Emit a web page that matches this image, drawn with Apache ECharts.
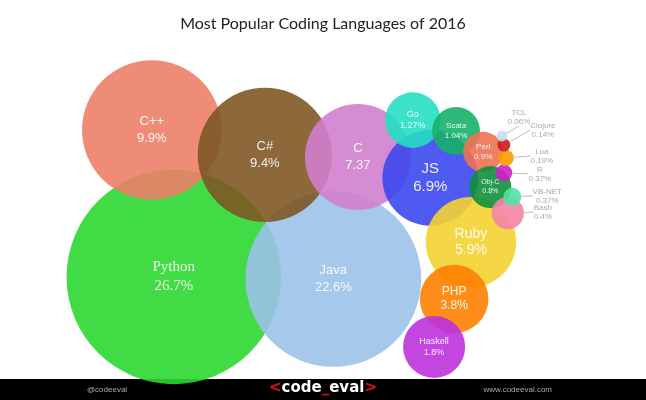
<!DOCTYPE html>
<html>
<head>
<meta charset="utf-8">
<script src="https://cdn.jsdelivr.net/npm/echarts@6/dist/echarts.min.js"></script>
<style>
html, body { margin: 0; padding: 0; background: #fff; }
#bubbles { width: 646px; height: 400px; }
</style>
</head>
<body>
<div id="bubbles"></div>
<script>
// languages, biggest first (later ones drawn on top)
var names  = ['Python', 'Java', 'C++', 'C#', 'C', 'JS', 'Ruby', 'PHP', 'Haskell', 'Go', 'Scala', 'Perl', 'Obj-C', 'Bash', 'R', 'VB-NET', 'Lua', 'Clojure', 'TCL'];
var shares = ['26.7%', '22.6%', '9.9%', '9.4%', '7.37', '6.9%', '5.9%', '3.8%', '1.8%', '1.27%', '1.04%', '0.9%', '0.8%', '0.4%', '0.37%', '0.37%', '0.19%', '0.14%', '0.06%'];
// bubble centres and radii (axis units 0-100)
var posX   = [26.9, 51.6, 23.5, 41.0, 55.4, 66.6, 72.9, 70.3, 67.2, 63.9, 70.6, 74.8, 75.9, 78.6, 78.0, 79.3, 78.3, 78.0, 77.7];
var posY   = [29.9, 29.3, 73.4, 66.0, 65.4, 59.2, 40.2, 23.4, 9.2, 76.3, 73.1, 66.9, 56.5, 48.8, 60.7, 53.6, 65.1, 68.9, 71.6];
var radius = [16.6, 13.6, 10.8, 10.4, 8.2, 7.4, 7.0, 5.3, 4.8, 4.3, 3.7, 3.1, 3.25, 2.5, 1.3, 1.4, 1.24, 1.0, 0.85];

(function(){
	var colors = ['#2cd831', '#9bc2e9', '#ec7f69', '#7f5826', '#d27fcd', '#3c48ee', '#f4d331', '#fd7f00', '#bc32de',
		'#26dec2', '#16b169', '#ee7253', '#10903c', '#f485a6', '#cd21c7', '#53e3a1', '#f79b05', '#cd1b1b', '#c7ddee'];
	// font size / line height of the label inside each bubble
	var fonts = [[15, 19], [13, 17], [13, 17], [13, 17], [13, 17], [15, 18], [14, 16], [12, 14], [9, 11],
		[9, 11], [8, 10], [8, 10], [7, 9]];
	// where the outside labels sit, relative to their bubble
	var offsets = {13: [35, -1], 14: [36, 1], 15: [35, -1], 16: [36, -2], 17: [39, -15], 18: [17, -19]};
	var pxPerUnit = 6.46;

	var inside = [], outside = [];
	names.forEach(function(n, i){
		var item = {
			name: n,
			value: [posX[i], posY[i], radius[i]],
			itemStyle: { color: colors[i], opacity: 0.9 }
		};
		if (fonts[i]) {
			item.label = {
				fontSize: fonts[i][0],
				lineHeight: fonts[i][1],
				fontFamily: n === 'Python' ? 'Liberation Serif' : 'Liberation Sans'
			};
			inside.push(item);
		} else {
			outside.push(item);
		}
	});

	option = {
		animation: false,
		title: {
			text: 'Most Popular Coding Languages of 2016',
			left: 'center',
			top: 11,
			textStyle: { fontFamily: 'Lato', fontSize: 16, fontWeight: 'normal', color: '#222' }
		},
		grid: { left: 0, right: 0, top: 40, bottom: 22 },
		xAxis: { type: 'value', min: 0, max: 100, show: false },
		yAxis: { type: 'value', min: 0, max: 100, show: false },
		series: [
			{
				type: 'scatter',
				data: inside,
				symbolSize: function(v){ return v[2] * 2 * pxPerUnit; },
				label: {
					show: true,
					position: 'inside',
					color: '#fff',
					formatter: function(p){ return p.name + '\n' + shares[names.indexOf(p.name)]; }
				}
			},
			{
				type: 'scatter',
				data: outside,
				symbolSize: function(v){ return v[2] * 2 * pxPerUnit; },
				label: {
					show: true,
					position: 'inside',
					color: '#a0a0a0',
					fontSize: 8,
					lineHeight: 9,
					fontFamily: 'Liberation Sans',
					formatter: function(p){ return p.name + '\n' + shares[names.indexOf(p.name)]; }
				},
				labelLine: { show: true, lineStyle: { color: '#bdbdbd', width: 1 } },
				labelLayout: function(p){
					var o = offsets[names.indexOf(outside[p.dataIndex].name)];
					return o ? { dx: o[0], dy: o[1] } : {};
				}
			}
		],
		graphic: [
			{ type: 'rect', left: 0, top: 379, shape: { width: 646, height: 21 }, style: { fill: '#000' } },
			{ type: 'text', left: 87, top: 386, style: { text: '@codeeval', fill: '#aaa', fontSize: 8, fontFamily: 'Liberation Sans' } },
			{ type: 'text', right: 94, top: 386, style: { text: 'www.codeeval.com', fill: '#aaa', fontSize: 8, fontFamily: 'Liberation Sans' } },
			{
				type: 'text', left: 'center', top: 381,
				style: {
					text: '{r|<}{w|code}{r|_}{w|eval}{r|>}',
					rich: {
						r: { fill: '#e01010', fontSize: 15, fontWeight: 'bold', fontFamily: 'DejaVu Sans' },
						w: { fill: '#fff', fontSize: 15, fontWeight: 'bold', fontFamily: 'DejaVu Sans' }
					}
				}
			}
		]
	};

	var myChart = echarts.init(document.getElementById('bubbles'));
	myChart.setOption(option);
})();
</script>
</body>
</html>
